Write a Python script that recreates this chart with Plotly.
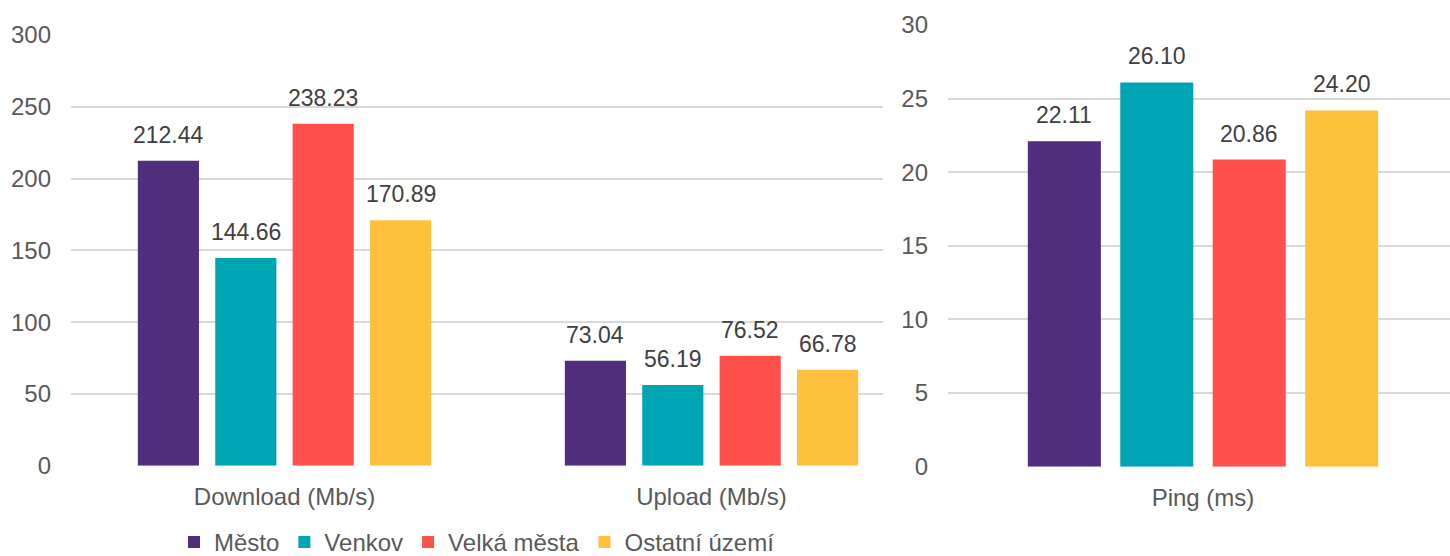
import plotly.graph_objects as go

# ---- data ----
series_names = ["Město", "Venkov", "Velká města", "Ostatní území"]
series_colors = ["#512D7D", "#00A5B4", "#FF504B", "#FFC03D"]

speed_categories = ["Download (Mb/s)", "Upload (Mb/s)"]
mesto_speed = [212.44, 73.04]
venkov_speed = [144.66, 56.19]
velka_speed = [238.23, 76.52]
ostatni_speed = [170.89, 66.78]

ping_categories = ["Ping (ms)"]
mesto_ping = [22.11]
venkov_ping = [26.10]
velka_ping = [20.86]
ostatni_ping = [24.20]

speed_ticks = [0, 50, 100, 150, 200, 250, 300]
ping_ticks = [0, 5, 10, 15, 20, 25, 30]

speed_series = [mesto_speed, venkov_speed, velka_speed, ostatni_speed]
ping_series = [mesto_ping, venkov_ping, velka_ping, ostatni_ping]

# ---- figure ----
W, H = 1450, 556
FONT = "Arial, 'Liberation Sans', sans-serif"
BARGAP = 0.275
BARGROUPGAP = 0.21
TICK_COLOR = "#595959"
VALUE_COLOR = "#404040"
FS = 24
VFS = 23

fig = go.Figure()
annotations = []
n = len(series_names)
slot = (1 - BARGAP) / n

for i, (name, color) in enumerate(zip(series_names, series_colors)):
    fig.add_trace(go.Bar(
        x=speed_categories, y=speed_series[i], name=name,
        marker=dict(color=color, line=dict(width=0)),
        xaxis="x", yaxis="y", legendgroup=name, showlegend=True,
        hovertemplate="%{x}: %{y:.2f}<extra>" + name + "</extra>",
    ))
    fig.add_trace(go.Bar(
        x=ping_categories, y=ping_series[i], name=name,
        marker=dict(color=color, line=dict(width=0)),
        xaxis="x2", yaxis="y2", legendgroup=name, showlegend=False,
        hovertemplate="%{x}: %{y:.2f}<extra>" + name + "</extra>",
    ))
    off = (i - (n - 1) / 2) * slot
    for c, v in enumerate(speed_series[i]):
        annotations.append(dict(
            x=c + off, y=v, xref="x", yref="y", text=f"{v:.2f}",
            showarrow=False, yanchor="bottom", xanchor="center", yshift=11,
            font=dict(family=FONT, size=VFS, color=VALUE_COLOR),
        ))
    for c, v in enumerate(ping_series[i]):
        annotations.append(dict(
            x=c + off, y=v, xref="x2", yref="y2", text=f"{v:.2f}",
            showarrow=False, yanchor="bottom", xanchor="center", yshift=11,
            font=dict(family=FONT, size=VFS, color=VALUE_COLOR),
        ))

axis_common = dict(
    showline=False, zeroline=False, ticks="", automargin=False,
    tickfont=dict(family=FONT, size=FS, color=TICK_COLOR),
)

fig.update_layout(
    template="none",
    width=W, height=H,
    margin=dict(l=0, r=0, t=0, b=0, autoexpand=False),
    paper_bgcolor="white", plot_bgcolor="rgba(0,0,0,0)",
    barmode="group", bargap=BARGAP, bargroupgap=BARGROUPGAP,
    font=dict(family=FONT, size=FS, color=TICK_COLOR),
    hovermode="closest",
    xaxis=dict(
        domain=[71 / W, 883 / W], range=[-0.5, 1.4016], type="category",
        showgrid=False, ticklabelstandoff=14, anchor="y", **axis_common,
    ),
    yaxis=dict(
        domain=[90.3 / H, 521 / H], range=[0, 300], tickvals=speed_ticks,
        showgrid=True, gridcolor="#D9D9D9", gridwidth=1.5,
        ticklabelstandoff=19, anchor="x", **axis_common,
    ),
    xaxis2=dict(
        domain=[948 / W, 1.0], range=[-0.5, 0.4843], type="category",
        showgrid=False, ticklabelstandoff=14, anchor="y2", **axis_common,
    ),
    yaxis2=dict(
        domain=[89.3 / H, 531 / H], range=[0, 30], tickvals=ping_ticks,
        showgrid=True, gridcolor="#D9D9D9", gridwidth=1.5,
        ticklabelstandoff=19, anchor="x2", **axis_common,
    ),
    legend=dict(
        orientation="h", x=477 / W, xanchor="center", y=-0.016, yanchor="bottom",
        font=dict(family=FONT, size=FS, color=TICK_COLOR),
        itemwidth=30, tracegroupgap=0, bgcolor="rgba(0,0,0,0)",
    ),
    annotations=annotations,
)

fig.write_html(
    "out.html",
    config={"displayModeBar": False},
    post_script="document.body.style.margin='0';document.body.style.overflow='hidden';",
)
